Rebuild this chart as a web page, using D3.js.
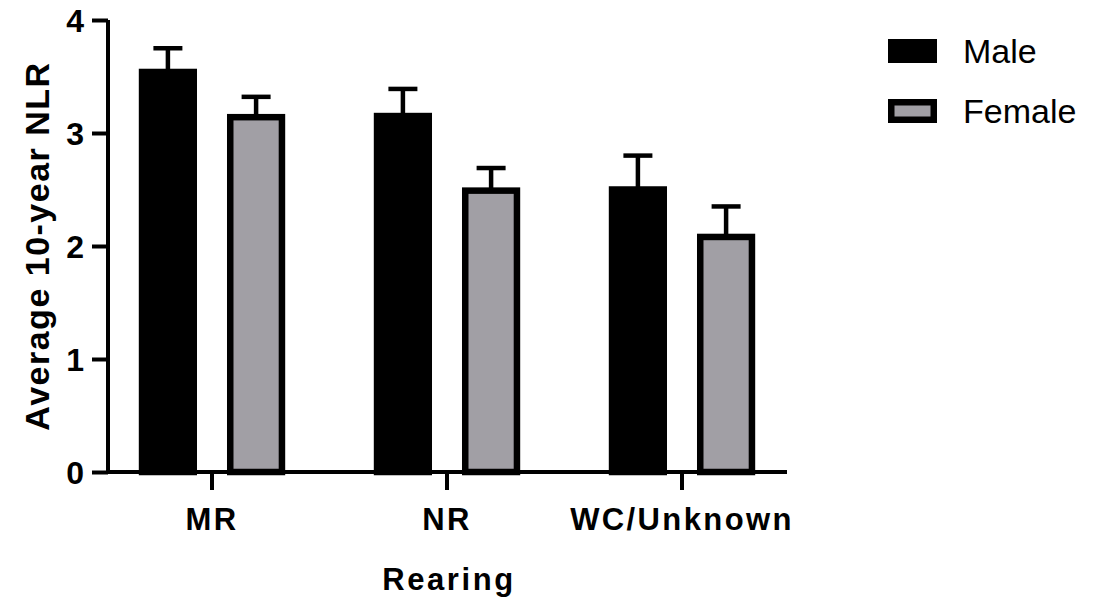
<!DOCTYPE html>
<html>
<head>
<meta charset="utf-8">
<script src="https://cdn.jsdelivr.net/npm/d3@7/dist/d3.min.js"></script>
<style>
  body { margin: 0; background: #fff; }
  svg text { font-family: "Liberation Sans", Arial, Helvetica, sans-serif; fill: #000; }
</style>
</head>
<body>
<div id="chart"></div>
<script>
// data
var rearing = ["MR", "NR", "WC/Unknown"]
var sexes = ["Male", "Female"]
var maleMean = [3.54, 3.15, 2.50]
var maleErr = [0.21, 0.24, 0.30]
var femaleMean = [3.14, 2.49, 2.08]
var femaleErr = [0.18, 0.20, 0.27]
var yTicks = [0, 1, 2, 3, 4]

var fills = { Male: "#000000", Female: "#a19fa5" }

var rows = []
rearing.forEach(function (r, i) {
  rows.push({ group: r, sex: "Male", mean: maleMean[i], err: maleErr[i] })
  rows.push({ group: r, sex: "Female", mean: femaleMean[i], err: femaleErr[i] })
})

var width = 1096, height = 603
var plotLeft = 108, plotRight = 787, plotTop = 20, plotBottom = 472

var svg = d3.select("#chart").append("svg").attr("width", width).attr("height", height)

var ys = d3.scaleLinear().domain([0, 4]).range([plotBottom, plotTop])
var x0 = d3.scaleBand().domain(rearing).range([94.5, 799.5])
var x1 = d3.scaleBand().domain(sexes).range([44.3, 190.7]).paddingInner(0.34)

// bars
var barStroke = 6.5
var groups = svg.append("g").selectAll("g")
  .data(rows).enter().append("g")
  .attr("transform", function (d) { return "translate(" + (x0(d.group) + x1(d.sex)) + ",0)" })

groups.append("rect")
  .attr("x", barStroke / 2)
  .attr("width", x1.bandwidth() - barStroke)
  .attr("y", function (d) { return ys(d.mean) })
  .attr("height", function (d) { return plotBottom - ys(d.mean) })
  .attr("fill", function (d) { return fills[d.sex] })
  .attr("stroke", "#000")
  .attr("stroke-width", barStroke)

// error bars (upper only)
var cap = 29
groups.append("line")
  .attr("x1", x1.bandwidth() / 2).attr("x2", x1.bandwidth() / 2)
  .attr("y1", function (d) { return ys(d.mean) })
  .attr("y2", function (d) { return ys(d.mean + d.err) })
  .attr("stroke", "#000").attr("stroke-width", 4.5)
groups.append("line")
  .attr("x1", x1.bandwidth() / 2 - cap / 2).attr("x2", x1.bandwidth() / 2 + cap / 2)
  .attr("y1", function (d) { return ys(d.mean + d.err) })
  .attr("y2", function (d) { return ys(d.mean + d.err) })
  .attr("stroke", "#000").attr("stroke-width", 4.5)

// y axis
var yAxis = svg.append("g")
  .attr("transform", "translate(" + plotLeft + ",0)")
  .call(d3.axisLeft(ys).tickValues(yTicks).tickFormat(d3.format("d")).tickSize(16).tickPadding(8).tickSizeOuter(0))
yAxis.select(".domain").attr("stroke-width", 4).attr("d", "M0," + (plotBottom + 2) + "V" + plotTop)
yAxis.selectAll(".tick line").attr("stroke-width", 4)
yAxis.selectAll("text").style("font-size", "32px").style("font-weight", "bold").attr("dy", "0.36em")

// x axis
var xAxis = svg.append("g")
  .attr("transform", "translate(0," + plotBottom + ")")
  .call(d3.axisBottom(x0).tickSize(18).tickPadding(18).tickSizeOuter(0))
xAxis.select(".domain").attr("stroke-width", 4).attr("d", "M" + (plotLeft - 2) + ",0H" + plotRight)
xAxis.selectAll(".tick line").attr("stroke-width", 4)
xAxis.selectAll("text")
  .style("font-size", "31px").style("font-weight", "bold").style("letter-spacing", "2.4px")

// axis titles
svg.append("text")
  .attr("x", 449).attr("y", 590)
  .attr("text-anchor", "middle")
  .style("font-size", "31px").style("font-weight", "bold").style("letter-spacing", "2.6px")
  .text("Rearing")

svg.append("text")
  .attr("transform", "translate(49," + ((plotTop + plotBottom) / 2) + ") rotate(-90)")
  .attr("text-anchor", "middle")
  .style("font-size", "34px").style("font-weight", "bold").style("letter-spacing", "1.5px")
  .text("Average 10-year NLR")

// legend
var legend = svg.append("g").selectAll("g")
  .data(sexes).enter().append("g")
  .attr("transform", function (d, i) { return "translate(888," + (39 + i * 60) + ")" })
legend.append("rect")
  .attr("x", barStroke / 2).attr("y", barStroke / 2)
  .attr("width", 49 - barStroke).attr("height", 24 - barStroke)
  .attr("fill", function (d) { return fills[d] })
  .attr("stroke", "#000").attr("stroke-width", barStroke)
legend.append("text")
  .attr("x", 75).attr("y", 12).attr("dy", "0.36em")
  .style("font-size", "34px")
  .text(function (d) { return d })
</script>
</body>
</html>
